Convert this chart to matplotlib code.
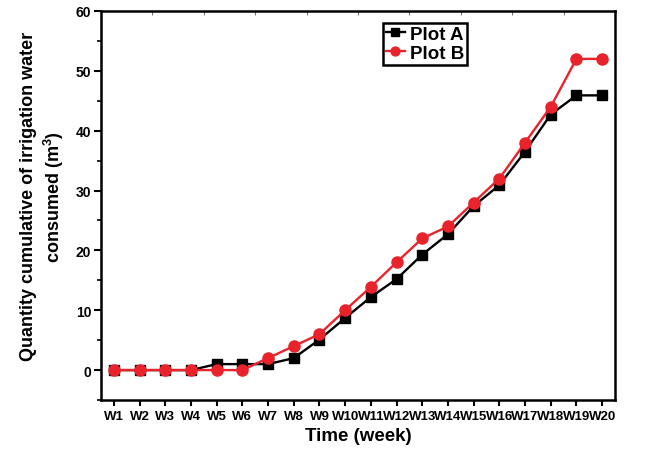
import numpy as np
import matplotlib
matplotlib.use("Agg")
import matplotlib.pyplot as plt
from matplotlib.ticker import FixedLocator

plt.rcParams["font.family"] = ["Liberation Sans", "DejaVu Sans"]
plt.rcParams["font.weight"] = "bold"
plt.rcParams["mathtext.fontset"] = "custom"
plt.rcParams["mathtext.rm"] = "Liberation Sans:bold"
plt.rcParams["mathtext.default"] = "rm"

weeks = [f"W{i}" for i in range(1, 21)]
plot_a = [0, 0, 0, 0, 1, 1, 1, 2, 5.1, 8.7, 12.2, 15.2, 19.3, 22.7, 27.4,
          30.9, 36.5, 42.7, 45.9, 45.9]
plot_b = [0, 0, 0, 0, 0, 0, 2, 4, 6, 10, 13.9, 18, 22, 24, 28,
          32, 38, 44, 52, 52]

x = np.arange(1, len(weeks) + 1)

fig = plt.figure(figsize=(6.49, 4.52), dpi=100)
ax = fig.add_axes([0.1556, 0.1128, 0.7920, 0.8607])

ax.plot(x, plot_a, color="black", marker="s", markersize=7, linewidth=1.7,
        label="Plot A")
ax.plot(x, plot_b, color="#e8232b", marker="o", markersize=8, linewidth=1.7,
        label="Plot B")

ax.set_xlim(0.5, 20.5)
ax.set_ylim(-5, 60)
ax.set_xticks(x)
ax.set_xticklabels(weeks)
ax.set_yticks(np.arange(0, 61, 10))
ax.yaxis.set_minor_locator(FixedLocator(np.arange(-5, 61, 10)))

for s in ax.spines.values():
    s.set_linewidth(1.8)

ax.tick_params(axis="x", which="major", direction="out", length=4, width=1.5,
               labelsize=9.5, pad=3)
ax.tick_params(axis="y", which="major", direction="out", length=5, width=1.5,
               labelsize=10, pad=2)
ax.tick_params(axis="y", which="minor", direction="out", length=3, width=1.2)
for lbl in ax.get_xticklabels() + ax.get_yticklabels():
    lbl.set_fontweight("bold")

# thin ticks on the top edge
top = ax.secondary_xaxis("top")
top.set_xticks(np.arange(0.5, 20.6, 2))
top.tick_params(direction="in", length=3, width=0.6, color="#555555",
                labeltop=False)
top.spines["top"].set_visible(False)

ax.set_xlabel("Time (week)", fontsize=13.5, fontweight="bold", labelpad=4)
ax.set_ylabel("Quantity cumulative of irrigation water\nconsumed (m$^3$)",
              fontsize=13, fontweight="bold", labelpad=7, linespacing=1.25)
ax.yaxis.label.set_y(0.525)

leg = ax.legend(loc="upper left", bbox_to_anchor=(383 / 649, 1 - 24 / 452),
                bbox_transform=fig.transFigure, fancybox=False,
                edgecolor="black", framealpha=1, handlelength=1.0,
                handletextpad=0.3, borderpad=0.15, labelspacing=0.1,
                borderaxespad=0, prop={"size": 13.5, "weight": "bold"},
                markerscale=0.8)
leg.get_frame().set_linewidth(1.8)

fig.savefig("out.png", dpi=100)
